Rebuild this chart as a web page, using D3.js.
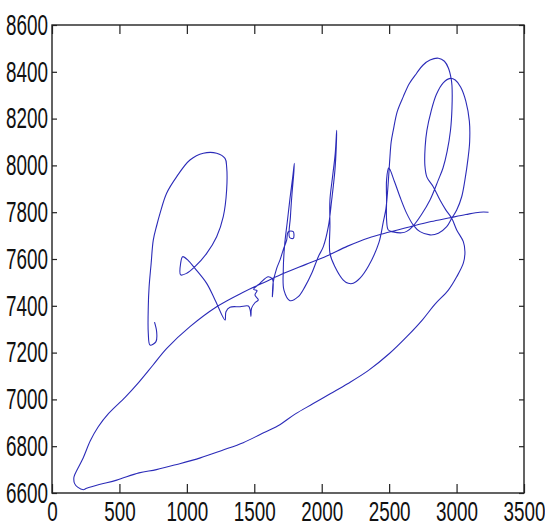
<!DOCTYPE html>
<html>
<head>
<meta charset="utf-8">
<script src="https://cdn.jsdelivr.net/npm/d3@7"></script>
<style>
    html, body { margin: 0; padding: 0; background: #fff; }
    svg { display: block; }
</style>
</head>
<body>
<div id="chart"></div>
<script>
// Tick values of the two axes
const xTicks = [0, 500, 1000, 1500, 2000, 2500, 3000, 3500];
const yTicks = [6600, 6800, 7000, 7200, 7400, 7600, 7800, 8000, 8200, 8400, 8600];

// Pen trace of the signature, in drawing order (x, y)
const traceX = [
    760, 776, 771, 727, 714, 714, 720, 735, 751, 775, 801, 850, 925, 1023, 1122, 1221, 1283, 1295, 1295, 1270,
    1221, 1147, 1060, 999, 954, 954, 969, 1011, 1060, 1147, 1209, 1283,
    1290, 1320, 1394, 1456, 1470, 1475, 1480, 1505, 1530, 1505, 1520, 1495, 1542, 1604, 1636, 1634, 1640, 1666,
    1691, 1715, 1740, 1752, 1789, 1789, 1762, 1768, 1780, 1792, 1797, 1785, 1765, 1745, 1725, 1715, 1720,
    1765, 1826, 1876, 1926, 1975, 2012, 2049, 2074, 2098, 2108, 2111, 2100, 2080, 2061, 2061, 2061, 2098,
    2160, 2197, 2234, 2284, 2347, 2424, 2457, 2476, 2490, 2500,
    2506, 2515, 2531, 2560, 2605, 2650, 2704, 2750, 2803, 2865, 2910, 2940, 2960, 2966, 2966, 2955, 2930,
    2900, 2865, 2803, 2740, 2679,
    2630, 2593, 2530, 2494, 2481, 2481, 2481, 2497, 2540, 2580, 2630, 2679,
    2729, 2803, 2865, 2927, 2964,
    3001, 3038, 3062, 3085, 3097, 3095, 3069, 3030, 2990, 2953, 2901, 2850, 2811, 2780, 2767, 2765, 2780,
    2827, 2877, 2920, 2964,
    3001, 3050, 3062, 3050, 3001, 2939, 2837, 2747, 2631, 2502, 2347, 2192, 2063, 1934, 1805, 1676, 1547,
    1418, 1260, 1100, 925, 774, 645, 480, 350, 257, 232, 190, 168, 162, 170,
    232, 284, 343, 420, 542, 645, 748, 851, 1023, 1221, 1418, 1573, 1728, 1883, 2037, 2192, 2347, 2502,
    2656, 2811, 2940, 3069, 3172, 3237
];
const traceY = [
    7330, 7289, 7247, 7232, 7282, 7396, 7480, 7580, 7681, 7740, 7795, 7881, 7952, 8023, 8052, 8052, 8030, 7994, 7895, 7781,
    7695, 7624, 7567, 7539, 7532, 7582, 7610, 7593, 7560, 7496, 7425, 7339,
    7375, 7394, 7396, 7399, 7380, 7355, 7390, 7413, 7425, 7446, 7465, 7470, 7496, 7524, 7512, 7439, 7500, 7560,
    7596, 7640, 7681, 7717, 7717, 7688, 7692, 7780, 7881, 7960, 8009, 7950, 7860, 7760, 7660, 7553, 7467,
    7422, 7439, 7482, 7539, 7610, 7653, 7738, 7852, 7980, 8080, 8150, 8050, 7950, 7852, 7740, 7624, 7567,
    7510, 7496, 7496, 7518, 7570, 7670, 7760, 7814, 7900, 7985,
    8037, 8100, 8151, 8230, 8294, 8350, 8394, 8428, 8450, 8458, 8445, 8415, 8370, 8340, 8245, 8150, 8060,
    7990, 7938, 7852, 7790, 7742,
    7718, 7712, 7716, 7724, 7767, 7850, 7938, 7990, 7930, 7866, 7795, 7745,
    7717, 7703, 7710, 7738, 7774,
    7809, 7866, 7938, 8030, 8101, 8188, 8274, 8335, 8365, 8372, 8353, 8303, 8231, 8150, 8080, 8000, 7950,
    7909, 7852, 7810, 7774,
    7724, 7674, 7631, 7582, 7524, 7467, 7405, 7340, 7268, 7196, 7124, 7067, 7024, 6981, 6938, 6887, 6851,
    6815, 6782, 6750, 6722, 6700, 6686, 6655, 6636, 6620, 6614, 6625, 6640, 6665, 6680,
    6751, 6823, 6883, 6940, 7009, 7074, 7146, 7218, 7311, 7396, 7458, 7500, 7541, 7577, 7613, 7655, 7690, 7715,
    7738, 7760, 7775, 7790, 7800, 7800
];

const width = 545;
const height = 529;
const margin = { top: 25, right: 21, bottom: 36, left: 52 };

const svg = d3.select('#chart')
    .append('svg')
    .attr('width', width)
    .attr('height', height);

const x = d3.scaleLinear()
    .domain([0, 3500])
    .range([margin.left, width - margin.right]);

const y = d3.scaleLinear()
    .domain([6600, 8600])
    .range([height - margin.bottom, margin.top]);

const points = traceX.map((v, i) => [v, traceY[i]]);

// Signature trace
const line = d3.line()
    .x(d => x(d[0]))
    .y(d => y(d[1]))
    .curve(d3.curveCatmullRom.alpha(0.5));

svg.append('path')
    .datum(points)
    .attr('fill', 'none')
    .attr('stroke', '#2b2bb8')
    .attr('stroke-width', 1.1)
    .attr('stroke-linejoin', 'round')
    .attr('d', line);

// Axes, ticks pointing inward on all four sides
const styleAxis = (g) => {
    g.select('.domain').remove();
    g.selectAll('line').attr('stroke', '#222').attr('stroke-width', 1.2);
    g.selectAll('text')
        .attr('font-family', '"Liberation Sans", Arial, sans-serif')
        .attr('font-size', 23)
        .attr('fill', '#111');
};

svg.append('g')
    .attr('transform', `translate(0,${height - margin.bottom})`)
    .call(d3.axisBottom(x).tickValues(xTicks).tickFormat(d3.format('d')).tickSize(-9).tickPadding(7))
    .call(styleAxis)
    .call(g => g.selectAll('text').attr('transform', 'scale(0.82,1.2)'));

svg.append('g')
    .attr('transform', `translate(0,${margin.top})`)
    .call(d3.axisTop(x).tickValues(xTicks).tickFormat('').tickSize(-9))
    .call(styleAxis);

svg.append('g')
    .attr('transform', `translate(${margin.left},0)`)
    .call(d3.axisLeft(y).tickValues(yTicks).tickFormat(d3.format('d')).tickSize(-5).tickPadding(5))
    .call(styleAxis)
    .call(g => g.selectAll('text').attr('transform', 'scale(0.82,1.25)'));

svg.append('g')
    .attr('transform', `translate(${width - margin.right},0)`)
    .call(d3.axisRight(y).tickValues(yTicks).tickFormat('').tickSize(-5))
    .call(styleAxis);

// Plot box
svg.append('rect')
    .attr('x', margin.left)
    .attr('y', margin.top)
    .attr('width', width - margin.left - margin.right)
    .attr('height', height - margin.top - margin.bottom)
    .attr('fill', 'none')
    .attr('stroke', '#222')
    .attr('stroke-width', 1.4);
</script>
</body>
</html>
